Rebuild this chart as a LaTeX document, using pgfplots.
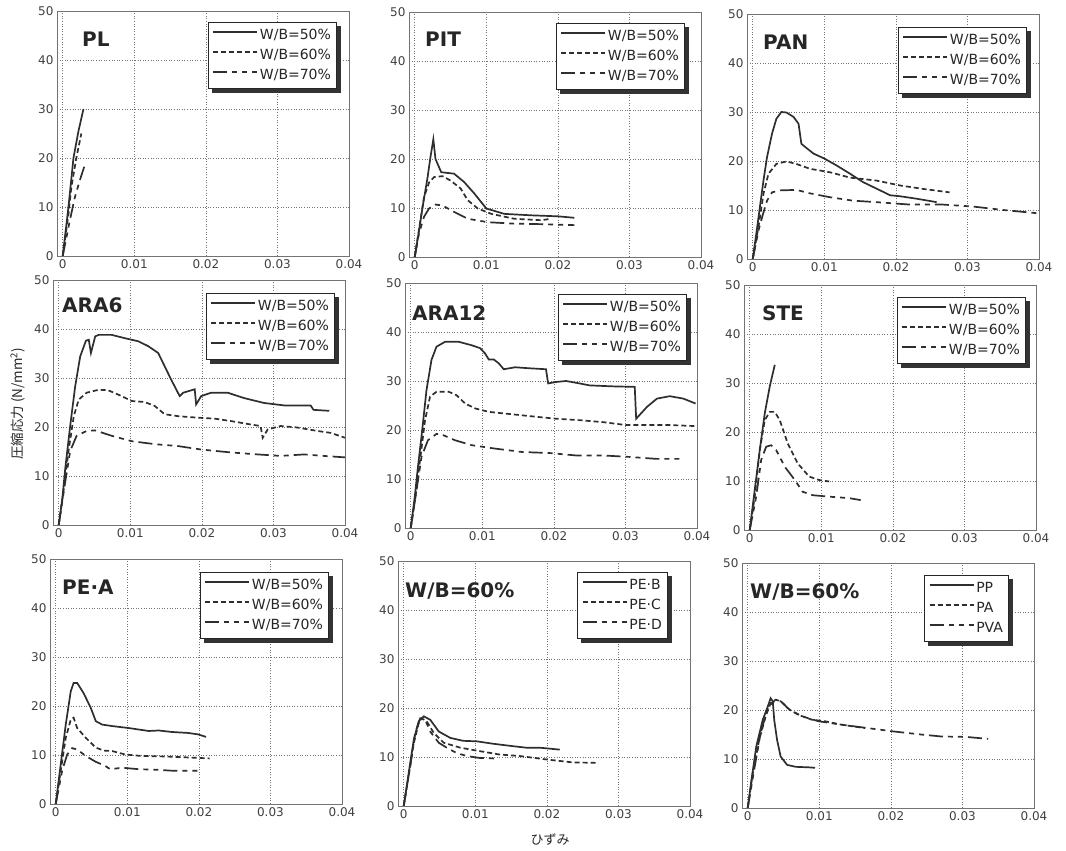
\documentclass[border=0pt]{standalone}
\usepackage{fontspec}
\setmainfont{DejaVu Sans}
\newfontfamily\jp{Noto Sans CJK JP}
\usepackage{pgfplots}
\pgfplotsset{compat=1.18}
\definecolor{ln}{gray}{0.18}
\tikzset{ttl/.style={anchor=north west, inner sep=0pt, font=\fontsize{20}{24}\selectfont\bfseries, text=black!85}}
\newcommand\legshadow[1]{%
  \fill[black!80] ([yshift=-4pt]#1.north east) rectangle ([xshift=4pt,yshift=-4pt]#1.south east);
  \fill[black!80] ([xshift=4pt]#1.south west) rectangle ([xshift=4pt,yshift=-4pt]#1.south east);}
\pgfplotsset{
  panel/.style={
    scale only axis, width=292pt, height=245pt,
    xmin=-0.0008, xmax=0.04, ymin=0, ymax=50,
    xtick={0,0.01,0.02,0.03,0.04}, xticklabels={0,0.01,0.02,0.03,0.04},
    scaled x ticks=false, scaled y ticks=false,
    ytick={0,10,20,30,40,50}, yticklabels={0,10,20,30,40,50},
    grid=major,
    major grid style={black!55, line width=0.5pt, dash pattern=on 1pt off 1.6pt},
    axis line style={black!55, line width=0.6pt},
    major tick length=0pt,
    tick label style={font=\fontsize{12}{14}\selectfont, text=black!75},
    anchor=north west,
    legend cell align=left,
    legend style={draw=black!85, line width=1.1pt, fill=white,
      font=\fontsize{14}{16}\selectfont, text=black!85,
      anchor=north east, inner xsep=4pt, inner ysep=5pt, row sep=4pt,
      nodes={inner sep=1.5pt, text height=10.5pt, text depth=2.5pt}},
    legend image code/.code={\draw[##1, line width=2.2pt] (0pt,3.5pt) -- (44pt,3.5pt);},
  },
  s1/.style={ln, line width=1.7pt, solid},
  s2/.style={ln, line width=1.7pt, dash pattern=on 5pt off 3pt},
  s3/.style={ln, line width=1.7pt, dash pattern=on 14pt off 5pt on 5pt off 5pt on 5pt off 5pt},
}
\begin{document}
\begin{tikzpicture}
\path[use as bounding box] (0,0) rectangle (1066pt,851pt);

% ---------- PL ----------
\begin{axis}[panel, at={(57pt,840pt)},
  legend style={name=leg1, at={(rel axis cs:1,1)}, xshift=-12pt, yshift=-11pt}]
\addplot[s1] coordinates {(0,0) (0.0004,5) (0.0008,10) (0.0015,20) (0.0022,25.5) (0.0029,30)};
\addplot[s2] coordinates {(0,0) (0.0008,8.5) (0.0012,14) (0.0019,20) (0.0026,25)};
\addplot[s3] coordinates {(0,0) (0.001,7.3) (0.0017,12) (0.0024,15.5) (0.003,18.2)};
\legend{W/B=50\%, W/B=60\%, W/B=70\%}
\node[ttl, xshift=25pt, yshift=-21pt] at (rel axis cs:0,1) {PL};
\end{axis}
\legshadow{leg1}

% ---------- PIT ----------
\begin{axis}[panel, at={(409pt,839pt)},
  legend style={name=leg2, at={(rel axis cs:1,1)}, xshift=-16pt, yshift=-11pt}]
\addplot[s1] coordinates {(0,0) (0.0006,5.4) (0.0011,10.2) (0.0018,16.3) (0.0022,20.4) (0.0026,24) (0.0029,20) (0.0037,17.3) (0.0055,17) (0.0069,15.3) (0.0083,13) (0.01,9.9) (0.0125,8.8) (0.0163,8.5) (0.02,8.3) (0.0223,8)};
\addplot[s2] coordinates {(0,0) (0.0008,7.5) (0.0013,12.2) (0.002,15.2) (0.0027,16.3) (0.0039,16.5) (0.005,15.6) (0.0064,14) (0.0074,11.6) (0.0088,9.9) (0.0107,8.8) (0.0139,7.8) (0.0177,7.5) (0.019,7.8)};
\addplot[s3] coordinates {(0,0) (0.0006,4.8) (0.0013,8.2) (0.002,9.9) (0.0029,10.7) (0.0039,10.5) (0.0055,9.2) (0.0074,7.8) (0.0102,7.1) (0.0139,6.8) (0.0177,6.7) (0.0223,6.5)};
\legend{W/B=50\%, W/B=60\%, W/B=70\%}
\node[ttl, xshift=16pt, yshift=-20pt] at (rel axis cs:0,1) {PIT};
\end{axis}
\legshadow{leg2}

% ---------- PAN ----------
\begin{axis}[panel, at={(747pt,837pt)},
  legend style={name=leg3, at={(rel axis cs:1,1)}, xshift=-12pt, yshift=-13pt}]
\addplot[s1] coordinates {(0,0) (0.00056,5.8) (0.001,10.6) (0.0015,16) (0.002,20.8) (0.0027,25.6) (0.0033,28.6) (0.004,30) (0.0047,29.9) (0.0057,29) (0.0064,27.6) (0.0068,23.5) (0.0073,22.9) (0.0085,21.5) (0.01,20.5) (0.0117,19.1) (0.0136,17.4) (0.0154,15.7) (0.0178,14) (0.0192,13) (0.0206,12.8) (0.0229,12.3) (0.0257,11.6)};
\addplot[s2] coordinates {(0,0) (0.0008,6.5) (0.0015,13.3) (0.0022,17.4) (0.0033,19.4) (0.0047,19.9) (0.0061,19.4) (0.008,18.4) (0.0108,17.7) (0.0136,16.6) (0.0173,16) (0.0206,15) (0.0238,14.3) (0.0275,13.6)};
\addplot[s3] coordinates {(0,0) (0.0008,5.8) (0.0014,9) (0.002,11.9) (0.0027,13.6) (0.0038,14) (0.0061,14.1) (0.008,13.4) (0.0108,12.6) (0.014,11.9) (0.0173,11.6) (0.022,11.1) (0.0266,11.1) (0.0308,10.7) (0.035,10) (0.04,9.3)};
\legend{W/B=50\%, W/B=60\%, W/B=70\%}
\node[ttl, xshift=16pt, yshift=-21pt] at (rel axis cs:0,1) {PAN};
\end{axis}
\legshadow{leg3}

% ---------- ARA6 ----------
\begin{axis}[panel, at={(53pt,571pt)},
  legend style={name=leg4, at={(rel axis cs:1,1)}, xshift=-10pt, yshift=-13pt}]
\addplot[s1] coordinates {(0,0) (0.0005,5.3) (0.0009,11.4) (0.0016,20.2) (0.0023,28.3) (0.003,34.4) (0.0038,37.6) (0.0042,37.8) (0.0045,35.1) (0.0051,38.5) (0.0056,38.8) (0.0074,38.8) (0.0093,38.1) (0.0111,37.5) (0.0125,36.5) (0.0139,35.1) (0.0148,32.4) (0.0157,29.7) (0.0169,26.3) (0.0174,27) (0.019,27.7) (0.0192,24.6) (0.0199,26.3) (0.0213,27) (0.0236,27) (0.0259,25.9) (0.0287,24.9) (0.0315,24.4) (0.0352,24.4) (0.0356,23.5) (0.0378,23.3)};
\addplot[s2] coordinates {(0,0) (0.0007,7.3) (0.0014,15.4) (0.0021,22.2) (0.0028,25.6) (0.0039,27) (0.0056,27.6) (0.0069,27.5) (0.0088,26.3) (0.0102,25.3) (0.012,25.1) (0.0134,24.3) (0.0148,22.6) (0.0167,22.2) (0.0194,21.9) (0.0218,21.7) (0.0241,21.2) (0.0269,20.5) (0.0282,20.2) (0.0285,17.8) (0.0292,19.5) (0.031,20.2) (0.0333,19.9) (0.0361,19.2) (0.038,18.8) (0.04,17.8)};
\addplot[s3] coordinates {(0,0) (0.0009,8.7) (0.0016,15.1) (0.0025,18.2) (0.0039,19.2) (0.0051,19.3) (0.0074,18.2) (0.0102,17.1) (0.0134,16.5) (0.0167,16.1) (0.0199,15.4) (0.0241,14.8) (0.0278,14.4) (0.031,14.1) (0.0343,14.4) (0.037,14.1) (0.04,13.8)};
\legend{W/B=50\%, W/B=60\%, W/B=70\%}
\node[ttl, xshift=9pt, yshift=-17pt] at (rel axis cs:0,1) {ARA6};
\end{axis}
\legshadow{leg4}

% ---------- ARA12 ----------
\begin{axis}[panel, at={(405pt,568pt)},
  legend style={name=leg5, at={(rel axis cs:1,1)}, xshift=-10pt, yshift=-11pt}]
\addplot[s1] coordinates {(0,0) (0.00056,6.3) (0.001,12.4) (0.0016,19.9) (0.0022,28.1) (0.0029,34.3) (0.0036,37) (0.0048,38) (0.0067,38) (0.0085,37.3) (0.0097,36.7) (0.0104,35.6) (0.0109,34.4) (0.0116,34.4) (0.0123,33.6) (0.013,32.4) (0.0146,32.8) (0.0165,32.6) (0.0189,32.4) (0.0192,29.5) (0.0203,29.8) (0.0217,30) (0.0236,29.5) (0.025,29.1) (0.0283,28.9) (0.0313,28.8) (0.0315,22.3) (0.033,24.7) (0.0344,26.4) (0.0362,26.9) (0.0381,26.4) (0.0398,25.4)};
\addplot[s2] coordinates {(0,0) (0.0006,5.6) (0.0013,13.8) (0.002,22) (0.0027,26.8) (0.0036,27.8) (0.0053,27.8) (0.0064,27.1) (0.0076,25.4) (0.009,24.4) (0.0109,23.7) (0.0142,23.2) (0.0175,22.7) (0.0203,22.3) (0.0236,22) (0.0269,21.6) (0.0301,21) (0.033,21) (0.0362,21) (0.0398,20.8)};
\addplot[s3] coordinates {(0,0) (0.0008,7.6) (0.0015,14.5) (0.0024,17.9) (0.0036,19.2) (0.0043,19.1) (0.0062,17.9) (0.0085,16.9) (0.0118,16.2) (0.0156,15.5) (0.0194,15.3) (0.0231,14.8) (0.0269,14.8) (0.0306,14.5) (0.0344,14.1) (0.0379,14.1)};
\legend{W/B=50\%, W/B=60\%, W/B=70\%}
\node[ttl, xshift=7pt, yshift=-22pt] at (rel axis cs:0,1) {ARA12};
\end{axis}
\legshadow{leg5}

% ---------- STE ----------
\begin{axis}[panel, at={(744pt,566pt)},
  legend style={name=leg6, at={(rel axis cs:1,1)}, xshift=-10pt, yshift=-12pt}]
\addplot[s1] coordinates {(0,0) (0.0007,8.2) (0.0014,16.3) (0.0021,23.8) (0.0028,29.3) (0.0035,33.7)};
\addplot[s2] coordinates {(0,0) (0.0007,6.8) (0.0014,16.3) (0.0021,22.4) (0.0028,24.1) (0.0035,24.1) (0.0042,22.4) (0.0053,17.7) (0.0067,13.6) (0.0083,10.9) (0.0097,10.2) (0.0111,9.9)};
\addplot[s3] coordinates {(0,0) (0.0009,6.8) (0.0016,14.3) (0.0023,17) (0.003,17.3) (0.0037,16.3) (0.0049,12.9) (0.0063,10.2) (0.0074,7.8) (0.0088,7.1) (0.0111,6.8) (0.0139,6.5) (0.0155,6.1)};
\legend{W/B=50\%, W/B=60\%, W/B=70\%}
\node[ttl, xshift=18pt, yshift=-20pt] at (rel axis cs:0,1) {STE};
\end{axis}
\legshadow{leg6}

% ---------- PE.A ----------
\begin{axis}[panel, at={(50pt,292pt)},
  legend style={name=leg7, at={(rel axis cs:1,1)}, xshift=-13pt, yshift=-13pt}]
\addplot[s1] coordinates {(0,0) (0.0007,8.1) (0.0014,16.2) (0.0021,23) (0.0025,24.7) (0.003,24.7) (0.0039,22.6) (0.0049,19.6) (0.0056,16.9) (0.0065,16.2) (0.0079,15.9) (0.0102,15.5) (0.0116,15.2) (0.013,14.9) (0.0144,15) (0.0162,14.7) (0.0185,14.5) (0.0199,14.2) (0.021,13.7)};
\addplot[s2] coordinates {(0,0) (0.0007,6.8) (0.0014,13.5) (0.0021,17.2) (0.0025,17.6) (0.003,15.5) (0.0042,13.5) (0.0056,11.5) (0.0067,10.9) (0.0079,10.8) (0.0097,10.1) (0.012,9.8) (0.0153,9.7) (0.0185,9.5) (0.0215,9.3)};
\addplot[s3] coordinates {(0,0) (0.0009,6.8) (0.0016,10.1) (0.0023,11.4) (0.003,11.1) (0.0042,9.8) (0.0056,8.6) (0.0069,7.8) (0.0076,7.1) (0.0093,7.4) (0.0116,7.1) (0.0139,7) (0.0162,6.8) (0.0185,6.8) (0.0204,6.8)};
\legend{W/B=50\%, W/B=60\%, W/B=70\%}
\node[ttl, xshift=12pt, yshift=-21pt] at (rel axis cs:0,1) {PE·A};
\end{axis}
\legshadow{leg7}

% ---------- W/B=60% (PE) ----------
\begin{axis}[panel, at={(398pt,290pt)},
  legend style={name=leg8, at={(rel axis cs:1,1)}, xshift=-22pt, yshift=-11pt}]
\addplot[s1] coordinates {(0,0) (0.0007,6.8) (0.0014,13.5) (0.0021,17.3) (0.0028,18.3) (0.0037,17.6) (0.0049,15.2) (0.0065,13.9) (0.0083,13.3) (0.0102,13.2) (0.0125,12.7) (0.0153,12.2) (0.0171,11.9) (0.019,11.9) (0.0218,11.5)};
\addplot[s2] coordinates {(0,0) (0.0007,6.2) (0.0014,12.8) (0.0021,16.9) (0.0025,17.9) (0.0032,17.3) (0.0042,14.9) (0.0056,12.9) (0.0079,11.9) (0.0106,11.2) (0.0134,10.5) (0.0162,10.2) (0.0199,9.5) (0.0236,8.9) (0.0269,8.8)};
\addplot[s3] coordinates {(0,0) (0.0009,8.1) (0.0016,14.9) (0.0023,17.9) (0.003,17.6) (0.0037,15.2) (0.0049,12.9) (0.006,11.9) (0.0074,10.8) (0.0088,10.2) (0.0106,9.8) (0.0127,9.7)};
\legend{PE·B, PE·C, PE·D}
\node[ttl, xshift=7pt, yshift=-21pt] at (rel axis cs:0,1) {W/B=60\%};
\end{axis}
\legshadow{leg8}

% ---------- W/B=60% (PP/PA/PVA) ----------
\begin{axis}[panel, at={(742pt,288pt)},
  legend style={name=leg9, at={(rel axis cs:1,1)}, xshift=-25pt, yshift=-12pt}]
\addplot[s1] coordinates {(0,0) (0.00046,5.1) (0.0012,12.6) (0.0021,18) (0.0028,20.7) (0.0032,22.4) (0.0035,21.8) (0.0037,18) (0.0041,13.9) (0.0046,10.5) (0.0055,8.8) (0.0067,8.4) (0.0085,8.3) (0.0094,8.2)};
\addplot[s2] coordinates {(0,0) (0.0007,7) (0.0016,13.9) (0.0025,18.7) (0.0032,21.4) (0.0039,22.1) (0.0046,21.8) (0.0058,20.1) (0.0071,19) (0.009,18) (0.0108,17.7) (0.0131,17) (0.0164,16.3)};
\addplot[s3] coordinates {(0,0) (0.0009,7.8) (0.0018,15.3) (0.0028,20.4) (0.0037,21.8) (0.0046,21.8) (0.0058,20.1) (0.0076,18.7) (0.0099,17.7) (0.0131,17) (0.0168,16.3) (0.0205,15.6) (0.0242,15) (0.027,14.6) (0.0306,14.5) (0.0336,14.1)};
\legend{PP, PA, PVA}
\node[ttl, xshift=8pt, yshift=-20pt] at (rel axis cs:0,1) {W/B=60\%};
\end{axis}
\legshadow{leg9}

% axis titles
\node[rotate=90, font=\jp\fontsize{13.5}{16}\selectfont, text=black!85] at (18pt,447pt) {圧縮応力 (N/mm\textsuperscript{2})};
\node[font=\jp\fontsize{13}{15}\selectfont, text=black!85] at (550pt,11pt) {ひずみ};
\end{tikzpicture}
\end{document}
